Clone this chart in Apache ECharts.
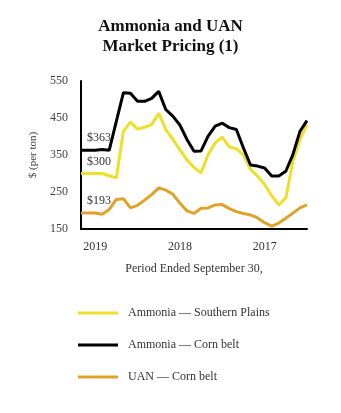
<!DOCTYPE html>
<html><head><meta charset="utf-8">
<script src="https://cdn.jsdelivr.net/npm/echarts@6/dist/echarts.min.js"></script>
<style>html,body{margin:0;padding:0;background:#fff}#c{width:341px;height:413px}</style>
</head><body><div id="c"></div>
<script>
var categories = ['','','2019','','','','','','','','','','','','2018','','','','','','','','','','','','2017','','','','','',''];
var southernPlains = [300,300,300,300,294,288,414,439,420,425,432,463,419,392,364,337,316,302,351,383,398,372,367,350,311,293,270,240,215,234,333,392,432];
var cornBelt = [363,363,363,365,363,441,518,517,495,495,503,522,473,455,431,392,360,361,401,428,436,424,419,369,323,320,315,293,293,306,351,414,443];
var uanCornBelt = [193,193,193,190,203,230,232,207,214,228,243,261,255,244,220,199,192,206,207,215,216,205,197,192,188,180,167,158,166,179,193,207,215];
var seriesNames = ['Ammonia — Southern Plains','Ammonia — Corn belt','UAN — Corn belt'];
var startLabels = ['$300','$363','$193'];
var colors = ['#ECE02A','#000000','#DFA32A'];

var font = 'Liberation Serif, Times New Roman, serif';
var chart = echarts.init(document.getElementById('c'));
var series = [southernPlains, cornBelt, uanCornBelt].map(function(arr, idx){
  return {
    name: seriesNames[idx], type:'line', data: arr,
    symbol:'none', lineStyle:{width:3, color:colors[idx]}, itemStyle:{color:colors[idx]},
    z: idx===1 ? 3 : 2, animation:false,
    markPoint:{
      symbol:'circle', symbolSize:0, silent:true, animation:false,
      data:[{coord:[0, arr[0]], value:arr[0]}],
      label:{show:true, position:'top', align:'left', distance:6, offset:[6,0],
        formatter:startLabels[idx], color:'#333', fontFamily:font, fontSize:12}
    }
  };
});
chart.setOption({
  animation:false,
  backgroundColor:'#fff',
  title:{text:'Ammonia and UAN\nMarket Pricing (1)', left:'center', top:12,
    textStyle:{fontFamily:font, fontWeight:'bold', fontSize:17, color:'#111', lineHeight:20}},
  grid:{left:81, right:34, top:81, bottom:184, containLabel:false},
  xAxis:{type:'category', data:categories, boundaryGap:false,
    axisLine:{lineStyle:{color:'#000', width:2}}, axisTick:{show:false},
    axisLabel:{interval:0, color:'#333', fontFamily:font, fontSize:12, margin:12},
    name:'Period Ended September 30,', nameLocation:'middle', nameGap:34,
    nameTextStyle:{color:'#333', fontFamily:font, fontSize:12}},
  yAxis:{type:'value', min:150, max:550, interval:100,
    axisLine:{show:true, lineStyle:{color:'#000', width:2}}, axisTick:{show:false}, splitLine:{show:false},
    axisLabel:{color:'#444', fontFamily:font, fontSize:12, margin:13},
    name:'$ (per ton)', nameLocation:'middle', nameGap:36, nameRotate:90,
    nameTextStyle:{color:'#444', fontFamily:font, fontSize:11}},
  legend:{orient:'vertical', left:73, top:302, itemWidth:40, itemHeight:3, itemGap:20,
    textStyle:{color:'#333', fontFamily:font, fontSize:12, padding:[0,0,0,5]},
    data:seriesNames.map(function(n){return {name:n, icon:'rect'};})},
  series:series
});
</script></body></html>
